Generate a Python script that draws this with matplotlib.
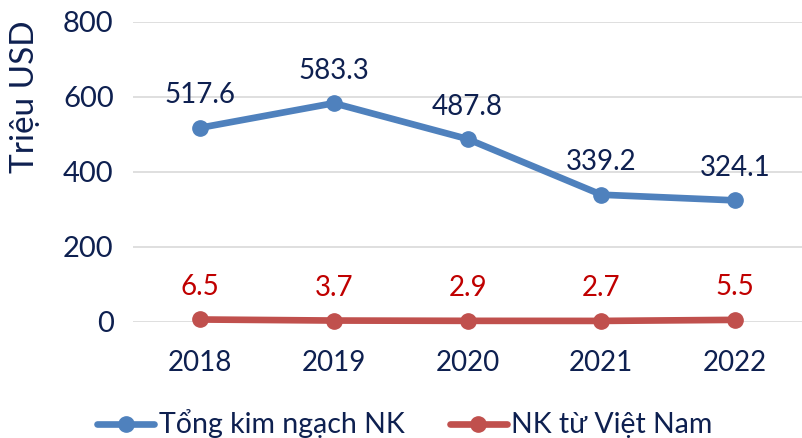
import matplotlib.pyplot as plt

years = ["2018", "2019", "2020", "2021", "2022"]
total_nk = [517.6, 583.3, 487.8, 339.2, 324.1]
nk_vietnam = [6.5, 3.7, 2.9, 2.7, 5.5]

navy = "#0E2050"
blue = "#4F81BD"
red = "#C0504D"
dark_red = "#C00000"

plt.rcParams['font.family'] = ['Lato', 'DejaVu Sans']

fig = plt.figure(figsize=(8.02, 4.38), dpi=100)
ax = fig.add_axes([0.166, 0.265, 0.834, 0.685])

x = range(len(years))
ax.plot(x, total_nk, color=blue, lw=4.8, marker='o', ms=11,
        label="Tổng kim ngạch NK", solid_capstyle='round')
ax.plot(x, nk_vietnam, color=red, lw=4.8, marker='o', ms=11,
        label="NK từ Việt Nam", solid_capstyle='round')

for i, v in enumerate(total_nk):
    ax.annotate(f"{v:.1f}", (i, v), xytext=(0, 14), textcoords='offset points',
                ha='center', va='bottom', fontsize=20, color=navy)
for i, v in enumerate(nk_vietnam):
    ax.annotate(f"{v:.1f}", (i, v), xytext=(0, 14), textcoords='offset points',
                ha='center', va='bottom', fontsize=20, color=dark_red)

ax.set_xlim(-0.5, len(years) - 0.5)
ax.set_ylim(0, 800)
ax.set_yticks([0, 200, 400, 600, 800])
ax.set_xticks(list(x))
ax.set_xticklabels(years)
ax.grid(axis='y', color='#D9D9D9', lw=1.2)
ax.set_axisbelow(True)
for s in ax.spines.values():
    s.set_visible(False)
ax.tick_params(axis='y', length=0, labelsize=21, colors=navy, pad=14)
ax.tick_params(axis='x', length=0, labelsize=20, colors=navy, pad=20)
for line in ax.lines:
    line.set_clip_on(False)

fig.text(0.031, 1 - 97 / 438, "Triệu USD", rotation=90, ha='center', va='center',
         fontsize=24, color=navy)

leg = fig.legend(loc='center', bbox_to_anchor=(0.505, 1 - 424 / 438), ncol=2,
                 frameon=False, fontsize=20.5, labelcolor=navy, handlelength=2.0,
                 handletextpad=0.15, columnspacing=1.6)

fig.savefig("out.png", dpi=100)
